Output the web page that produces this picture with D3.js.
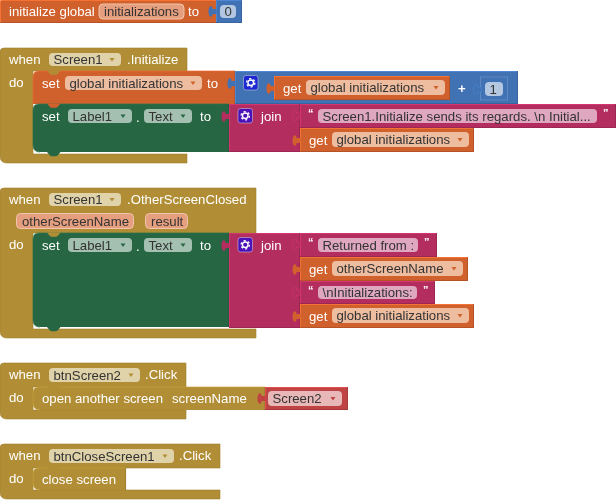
<!DOCTYPE html>
<html>
<head>
<meta charset="utf-8">
<script src="https://cdn.jsdelivr.net/npm/d3@7"></script>
<style>
  body { margin: 0; background: #fff; }
  svg { display: block; filter: blur(0.4px); }
  text { font-family: "Liberation Sans", Arial, sans-serif; font-size: 13.2px; }
</style>
</head>
<body>
<svg id="blocks" width="616" height="500"></svg>
<script>
// block labels
const globalName = "initializations";
const globalValue = "0";
const getName = "global initializations";
const incrementBy = "1";
const components = ["Screen1", "btnScreen2", "btnCloseScreen1"];
const eventNames = [".Initialize", ".OtherScreenClosed", ".Click"];
const eventParams = ["otherScreenName", "result"];
const regards = "Screen1.Initialize sends its regards. \\n Initial...";
const returnedParts = ["Returned from :", "\\nInitializations:"];
const setterLabels = ["Label1", "Text"];
const screenArg = "Screen2";

// block colours
const ORANGE = "#d0602c", BLUE = "#4072b4", BROWN = "#b18e35",
      GREEN = "#266643", PINK = "#b32d5e", RED = "#bf4343";
const pillFill = {};
pillFill[ORANGE] = "#eebc9f"; pillFill[BLUE] = "#b3c7e1"; pillFill[BROWN] = "#e0d2a9";
pillFill[GREEN] = "#a3c0b0"; pillFill[PINK] = "#e0a8c0"; pillFill[RED] = "#e8b8b8";

const svg = d3.select("#blocks");

function shade(c, k) { return d3.color(c).brighter(k).formatHex(); }

// plain rectangular block with a bevelled edge
function rectBlock(x0, y0, x1, y1, color, r) {
  svg.append("rect").attr("x", x0).attr("y", y0)
    .attr("width", x1 - x0).attr("height", y1 - y0)
    .attr("rx", r || 0).attr("fill", color);
  svg.append("path")
    .attr("d", `M${x0 + .5},${y1} V${y0 + .5} H${x1 - .5}`)
    .attr("fill", "none").attr("stroke", shade(color, .6)).attr("stroke-width", .8);
  svg.append("path")
    .attr("d", `M${x0},${y1 - .5} H${x1 - .5} V${y0}`)
    .attr("fill", "none").attr("stroke", shade(color, -.5)).attr("stroke-width", .8);
}

// "when ... do" bracket shape
function eventBlock(top, width, headBottom, stmtBottom, bottom) {
  const p = d3.path();
  p.moveTo(4, top);
  p.lineTo(width, top);
  p.lineTo(width, headBottom);
  p.lineTo(33, headBottom);
  p.lineTo(33, stmtBottom + 2);
  p.lineTo(width, stmtBottom + 2);
  p.lineTo(width, bottom);
  p.lineTo(7, bottom);
  p.quadraticCurveTo(0, bottom, 0, bottom - 7);
  p.lineTo(0, top + 4);
  p.quadraticCurveTo(0, top, 4, top);
  p.closePath();
  svg.append("path").attr("d", p.toString()).attr("fill", BROWN)
    .attr("stroke", shade(BROWN, -.3)).attr("stroke-width", .6);
}

// statement block body with rounded left corners
function stmtBlock(x0, y0, x1, y1, color, roundBottom) {
  const r = roundBottom ? 7 : 0;
  const p = d3.path();
  p.moveTo(x0 + 6, y0);
  p.lineTo(x1, y0);
  p.lineTo(x1, y1);
  p.lineTo(x0 + r, y1);
  p.quadraticCurveTo(x0, y1, x0, y1 - r);
  p.lineTo(x0, y0 + 6);
  p.quadraticCurveTo(x0, y0, x0 + 6, y0);
  p.closePath();
  svg.append("path").attr("d", p.toString()).attr("fill", color);
  // soft light edge down the left and along the top, darker on the right
  const edge = d3.path();
  edge.moveTo(x0 + r, y1);
  edge.quadraticCurveTo(x0, y1, x0, y1 - r);
  edge.lineTo(x0, y0 + 6);
  edge.quadraticCurveTo(x0, y0, x0 + 6, y0);
  edge.lineTo(x1, y0);
  svg.append("path").attr("d", edge.toString()).attr("fill", "none")
    .attr("stroke", shade(color, .4)).attr("stroke-width", .7);
  svg.append("path").attr("d", `M${x1 - .4},${y0} V${y1}`).attr("fill", "none")
    .attr("stroke", shade(color, -.4)).attr("stroke-width", .8);
}

// notch hanging down from the previous block
function notch(x, y, color) {
  svg.append("path")
    .attr("d", `M${x},${y - .5} l2.5,3 q1,1.2 2.5,1.2 h3.5 q1.5,0 2.5,-1.2 l2.5,-3 Z`)
    .attr("fill", color);
}

// puzzle tab on the left side of a value block: narrow neck, round head
function tab(x, y, color, faint) {
  const cy = y + 6.5;
  svg.append("path")
    .attr("d", `M${x + .5},${cy - 2.5} H${x - 3.5} C${x - 3},${cy - 6} ${x - 7.5},${cy - 7} ${x - 7.5},${cy} C${x - 7.5},${cy + 7} ${x - 3},${cy + 6} ${x - 3.5},${cy + 2.5} H${x + .5} Z`)
    .attr("fill", color)
    .attr("stroke", faint ? shade(color, .5) : "none").attr("stroke-width", .6);
}

function label(x, cy, str, fill) {
  return svg.append("text").attr("x", x).attr("y", cy + 4.6)
    .attr("fill", fill || "#fff").text(str);
}

// editable field or dropdown on a block
function pill(x0, y0, x1, y1, str, color, dropdown) {
  svg.append("rect").attr("x", x0).attr("y", y0)
    .attr("width", x1 - x0).attr("height", y1 - y0).attr("rx", 4)
    .attr("fill", pillFill[color]);
  label(x0 + 4.5, (y0 + y1) / 2, str, "#333");
  if (dropdown) {
    const ax = x1 - 9, ay = (y0 + y1) / 2;
    svg.append("path").attr("d", `M${ax - 2.5},${ay - 1.5} h5 l-2.5,3.5 Z`).attr("fill", color);
  }
}

// mutator gear button
function gear(x, y, fill) {
  svg.append("rect").attr("x", x).attr("y", y).attr("width", 14.5).attr("height", 14.5)
    .attr("rx", 2.5).attr("fill", fill).attr("stroke", "#ddd").attr("stroke-width", .5);
  const cx = x + 7.25, cy = y + 7.25;
  svg.append("circle").attr("cx", cx).attr("cy", cy).attr("r", 2.8)
    .attr("fill", "none").attr("stroke", "#fff").attr("stroke-width", 1.4);
  svg.append("circle").attr("cx", cx).attr("cy", cy).attr("r", 4.2)
    .attr("fill", "none").attr("stroke", "#fff").attr("stroke-width", 1.3)
    .attr("stroke-dasharray", "2.2 2.2");
}

function getBlock(x0, y0, x1, y1, name) {
  rectBlock(x0, y0, x1, y1, ORANGE);
  tab(x0, y0 + 6, ORANGE);
  label(x0 + 9, (y0 + y1) / 2, "get");
  pill(x0 + 32, y0 + 4, x1 - 5, y1 - 5, name, ORANGE, true);
}

function textBlock(x0, y0, x1, y1, pillEnd, str) {
  rectBlock(x0, y0, x1, y1, PINK);
  tab(x0, y0 + 5, PINK, true);
  label(x0 + 8, y0 + 8, "\u201C").style("font-size", "11px").attr("font-weight", "bold");
  pill(x0 + 18, y0 + 5, pillEnd, y1 - 5, str, PINK, false);
  label(pillEnd + 6, y0 + 8, "\u201D").style("font-size", "11px").attr("font-weight", "bold");
}

function setLabelRow(y) {
  label(42, y + 12, "set");
  pill(68, y + 5, 132, y + 19, setterLabels[0], GREEN, true);
  label(136, y + 13, ".");
  pill(144, y + 5, 192, y + 19, setterLabels[1], GREEN, true);
  label(200, y + 12, "to");
}

// initialize global
rectBlock(0, 0, 217, 23, ORANGE, 3);
label(9, 11.5, "initialize global");
svg.append("rect").attr("x", 99).attr("y", 4).attr("width", 85).attr("height", 15).attr("rx", 4)
  .attr("fill", "#e59f7f").attr("stroke", "#f2c4ab");
label(104, 11.5, globalName, "#333");
label(188, 11.5, "to");
rectBlock(216, 0, 242, 23, BLUE);
tab(216, 5, BLUE);
pill(220, 5, 236, 18, globalValue, BLUE, false);

// when Screen1.Initialize
eventBlock(48, 187, 71, 152, 163);
label(9, 59.5, "when");
pill(49, 53, 121, 66, components[0], BROWN, true);
label(127, 59.5, eventNames[0]);
label(9, 82, "do");
stmtBlock(33, 71, 235, 104, ORANGE);
notch(47, 71, BROWN);
label(42, 83, "set");
pill(65, 76, 202, 90, getName, ORANGE, true);
label(207, 83, "to");
rectBlock(235, 71, 518, 104, BLUE);
tab(235, 77, BLUE);
gear(243.5, 75.5, "#1b27d0");
getBlock(274, 76, 450, 100, getName);
label(458, 88.5, "+").attr("font-weight", "bold");
svg.append("rect").attr("x", 480.5).attr("y", 77).attr("width", 27).attr("height", 23)
  .attr("fill", BLUE).attr("stroke", "#6f93c6").attr("stroke-width", .7);
tab(481, 83, BLUE, true);
pill(485, 82, 503, 96, incrementBy, BLUE, false);

stmtBlock(33, 104, 229, 152, GREEN, true);
notch(47, 104, ORANGE);
notch(47, 152.5, GREEN);
setLabelRow(104);
rectBlock(229, 104, 300, 152, PINK);
tab(229, 110, PINK);
gear(238, 108.5, "#4a12b8");
label(261, 116, "join");
textBlock(300, 104, 616, 128, 597, regards);
getBlock(300, 128, 474, 152, getName);

// when Screen1.OtherScreenClosed
eventBlock(188, 256, 233, 327, 338);
label(9, 199, "when");
pill(49, 193, 121, 206, components[0], BROWN, true);
label(127, 199, eventNames[1]);
svg.append("rect").attr("x", 16.5).attr("y", 213.5).attr("width", 117).attr("height", 15).attr("rx", 4)
  .attr("fill", "#e59f7f").attr("stroke", "#f2c4ab");
label(22, 221, eventParams[0], "#333");
svg.append("rect").attr("x", 145.5).attr("y", 213.5).attr("width", 42).attr("height", 15).attr("rx", 4)
  .attr("fill", "#e59f7f").attr("stroke", "#f2c4ab");
label(151, 221, eventParams[1], "#333");
label(9, 244, "do");
stmtBlock(33, 233, 229, 327, GREEN, true);
notch(47, 233, BROWN);
notch(47, 327.5, GREEN);
setLabelRow(233);
rectBlock(229, 233, 300, 328, PINK);
tab(229, 239, PINK);
gear(238, 237.5, "#4a12b8");
label(261, 245, "join");
textBlock(300, 233, 437, 257, 418, returnedParts[0]);
getBlock(300, 257, 468, 281, eventParams[0]);
textBlock(300, 281, 435, 304, 417, returnedParts[1]);
getBlock(300, 304, 474, 328, getName);

// when btnScreen2.Click
eventBlock(363, 186, 387, 408, 419);
label(9, 374.5, "when");
pill(49, 368, 140, 382, components[1], BROWN, true);
label(145, 374.5, eventNames[2]);
label(9, 397.5, "do");
stmtBlock(33, 387, 265, 410, BROWN, true);
notch(47, 387, BROWN);
label(42, 398.5, "open another screen");
label(172, 398.5, "screenName");
rectBlock(265, 387, 348, 410, RED);
tab(265, 392, RED);
pill(268, 391, 342, 406, screenArg, RED, true);

// when btnCloseScreen1.Click
eventBlock(444, 220, 468, 488, 499);
label(9, 455.5, "when");
pill(49, 449, 174, 463, components[2], BROWN, true);
label(179, 455.5, eventNames[2]);
label(9, 478.5, "do");
stmtBlock(33, 468, 126, 490, BROWN, true);
notch(47, 468, BROWN);
label(42, 479.5, "close screen");
</script>
</body>
</html>
